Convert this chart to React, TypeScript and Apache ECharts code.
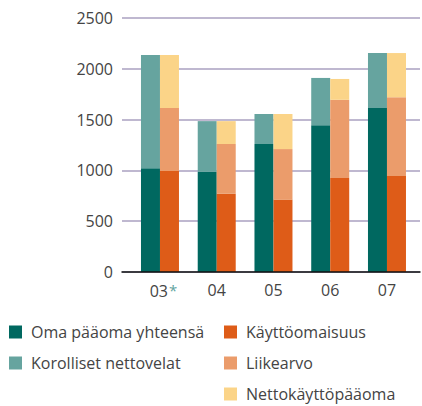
import React, { useEffect, useRef } from "react";
import * as echarts from "echarts";

const categories = ["03*", "04", "05", "06", "07"];
const yTicks = [0, 500, 1000, 1500, 2000, 2500];
const omaPaaoma = [1020, 985, 1260, 1445, 1615];
const korollisetNettovelat = [1115, 500, 295, 465, 540];
const kayttoomaisuus = [995, 770, 710, 925, 945];
const liikearvo = [620, 490, 500, 770, 775];
const nettokayttopaaoma = [520, 225, 345, 205, 435];

const names = {
  oma: "Oma pääoma yhteensä",
  kor: "Korolliset nettovelat",
  kay: "Käyttöomaisuus",
  lii: "Liikearvo",
  net: "Nettokäyttöpääoma",
};
const colors = {
  oma: "#006860",
  kor: "#66A49F",
  kay: "#DE5C18",
  lii: "#EB9C6B",
  net: "#FBD488",
};

const FONT = "'Open Sans', sans-serif";
const TEXT = "#444444";

export default function App() {
  const ref = useRef<HTMLDivElement>(null);
  useEffect(() => {
    if (!ref.current) return;
    const chart = echarts.init(ref.current, undefined, { renderer: "svg" });
    const bar = (key: keyof typeof names, data: number[], stack: string) => ({
      type: "bar",
      name: names[key],
      data,
      stack,
      xAxisIndex: 1,
      yAxisIndex: 1,
      barWidth: 19,
      barGap: "0%",
      itemStyle: { color: colors[key] },
    });
    chart.setOption({
      animation: false,
      textStyle: { fontFamily: FONT },
      grid: [
        { left: 122, width: 298, top: 18, height: 254 },
        { left: 131.6, width: 283.75, top: 18, height: 254 },
      ],
      xAxis: [
        {
          type: "category",
          gridIndex: 0,
          data: categories,
          axisLine: { lineStyle: { color: "#111", width: 1.5 } },
          axisTick: { show: false },
          axisLabel: { show: false },
          z: 5,
        },
        {
          type: "category",
          gridIndex: 1,
          data: categories,
          axisLine: { show: false },
          axisTick: { show: false },
          axisLabel: {
            interval: 0,
            margin: 10,
            fontSize: 16,
            color: TEXT,
            fontFamily: FONT,
            formatter: (v: string) =>
              v.endsWith("*") ? "{pad| }" + v.slice(0, -1) + "{s|*}" : v,
            rich: {
              pad: { width: 7, fontSize: 16, fontFamily: FONT },
              s: { color: "#5FA39E", fontSize: 15, fontFamily: FONT, padding: [0, 0, 2, 1] },
            },
          },
        },
      ],
      yAxis: [
        {
          type: "value",
          gridIndex: 0,
          min: yTicks[0],
          max: yTicks[yTicks.length - 1],
          interval: 500,
          axisLine: { show: false },
          axisTick: { show: false },
          axisLabel: {
            margin: 9,
            fontSize: 16,
            color: TEXT,
            fontFamily: FONT,
            formatter: (v: number) => String(v),
          },
          splitLine: { lineStyle: { color: "#BFB8D0", width: 2 } },
        },
        {
          type: "value",
          gridIndex: 1,
          min: yTicks[0],
          max: yTicks[yTicks.length - 1],
          interval: 500,
          show: false,
          splitLine: { show: false },
        },
      ],
      legend: [
        {
          orient: "vertical",
          left: 9,
          top: 323,
          padding: 0,
          itemWidth: 13,
          itemHeight: 13,
          itemGap: 13,
          icon: "rect",
          data: [names.oma, names.kor],
          textStyle: { fontSize: 16, color: TEXT, fontFamily: FONT, lineHeight: 18, padding: [0, 0, 0, 4] },
        },
        {
          orient: "vertical",
          left: 224,
          top: 323,
          padding: 0,
          itemWidth: 13,
          itemHeight: 13,
          itemGap: 13,
          icon: "rect",
          data: [names.kay, names.lii, names.net],
          textStyle: { fontSize: 16, color: TEXT, fontFamily: FONT, lineHeight: 18, padding: [0, 0, 0, 4] },
        },
      ],
      series: [
        bar("oma", omaPaaoma, "left"),
        bar("kor", korollisetNettovelat, "left"),
        bar("kay", kayttoomaisuus, "right"),
        bar("lii", liikearvo, "right"),
        bar("net", nettokayttopaaoma, "right"),
      ],
    });
    return () => chart.dispose();
  }, []);
  return <div ref={ref} style={{ width: 422, height: 406, position: "absolute", left: 0, top: 0 }} />;
}
